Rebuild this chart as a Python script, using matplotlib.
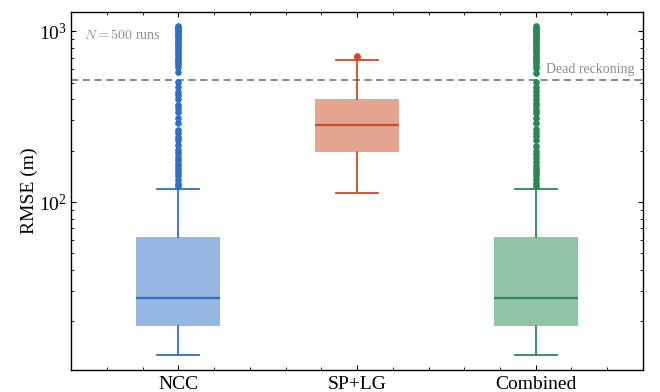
"""
RMSE distribution of the three localisation methods over 500 runs
"""
import numpy as np
import matplotlib as mpl
import matplotlib.pyplot as plt
from matplotlib.ticker import AutoMinorLocator

mpl.rcParams['font.family'] = 'serif'
mpl.rcParams['font.serif'] = ['Liberation Serif', 'DejaVu Serif']
mpl.rcParams['mathtext.fontset'] = 'cm'
mpl.rcParams['axes.linewidth'] = 1.0

methods = ['NCC', 'SP+LG', 'Combined']
colors = ['#2e70c4', '#cb4b27', '#278951']

# box statistics (m)
medians = [27.6, 284.0, 27.6]
q1s = [18.9, 197.0, 18.9]
q3s = [62.0, 398.0, 62.0]
whislo = [12.8, 113.0, 12.8]
whishi = [119.0, 675.0, 119.0]

ncc_fliers = [1070, 1050, 1030, 1010, 990, 970, 950, 930, 905, 880, 860,
              840, 815, 790, 770, 745, 720, 700, 680, 660, 640, 614, 574,
              501, 468, 443, 420, 398, 367, 353, 334, 312, 291, 265, 255,
              241, 232, 216, 202, 194, 184, 175, 167, 160, 154, 148, 141,
              134, 127, 124]
splg_fliers = [705, 715]
comb_fliers = [1065, 1045, 1025, 1005, 985, 965, 945, 925, 900, 875, 855,
               835, 810, 785, 765, 740, 715, 695, 675, 655, 635, 610, 570,
               505, 470, 445, 425, 400, 380, 362, 345, 330, 310, 290, 268,
               255, 243, 230, 214, 200, 190, 180, 172, 163, 156, 150, 143,
               136, 129, 124]
fliers = [ncc_fliers, splg_fliers, comb_fliers]

dead_reckoning = 515.0
n_runs = 500

stats = []
for i, name in enumerate(methods):
    stats.append({'label': name, 'med': medians[i], 'q1': q1s[i],
                  'q3': q3s[i], 'whislo': whislo[i], 'whishi': whishi[i],
                  'fliers': np.asarray(fliers[i], dtype=float)})

fig, ax = plt.subplots(figsize=(6.6, 3.92), dpi=100)
fig.subplots_adjust(left=0.108, right=0.974, top=0.969, bottom=0.056)

positions = np.arange(1, len(methods) + 1)
for pos, st, c in zip(positions, stats, colors):
    ax.bxp([st], positions=[pos], widths=0.47, patch_artist=True,
           boxprops=dict(facecolor=c, alpha=0.5, edgecolor='none'),
           medianprops=dict(color=c, linewidth=1.6),
           whiskerprops=dict(color=c, linewidth=1.3),
           capprops=dict(color=c, linewidth=1.3),
           flierprops=dict(marker='o', markerfacecolor=c,
                           markeredgecolor=c, markersize=3.8))

# Dead reckoning reference level
ax.axhline(dead_reckoning, color='0.5', linestyle='--', linewidth=1.3,
           dashes=(4, 2.5), zorder=1)
ax.text(0.985, dead_reckoning * 1.06, 'Dead reckoning', color='0.55',
        fontsize=10, ha='right', va='bottom',
        transform=ax.get_yaxis_transform())
ax.text(0.022, 0.955, r'$N = %d$ runs' % n_runs, color='0.55', fontsize=10,
        ha='left', va='top', transform=ax.transAxes)

ax.set_yscale('log')
ax.set_ylim(10.4, 1290)
ax.set_xlim(0.4, 3.6)
ax.set_xticks(positions)
ax.set_xticklabels(methods, fontsize=14)
ax.xaxis.set_minor_locator(AutoMinorLocator(5))
ax.set_ylabel('RMSE (m)', fontsize=14, labelpad=0.5)
ax.tick_params(axis='y', which='major', labelsize=14)
ax.tick_params(axis='x', which='major', pad=4.5)
ax.tick_params(which='both', direction='in', top=True, right=True)
ax.tick_params(which='major', length=3.5)
ax.tick_params(which='minor', length=2)

fig.savefig('out.png')
